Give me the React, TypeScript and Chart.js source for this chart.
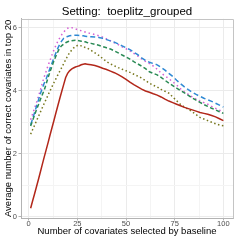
import { useEffect, useRef } from "react";
import { Chart, registerables } from "chart.js";

Chart.register(...registerables);

const titleText = "Setting:  toeplitz_grouped";
const xAxisTitle = "Number of covariates selected by baseline";
const yAxisTitle = "Average number of correct covariates in top 20";

const xMajorTicks = [0, 25, 50, 75, 100];
const xMinorTicks = [12.5, 37.5, 62.5, 87.5];
const yMajorTicks = [0, 2, 4, 6];
const yMinorTicks = [1, 3, 5];

const xValues = [
  1, 2, 3, 4, 5, 6, 7, 8, 9, 10, 11, 12, 13, 14, 15, 16, 17, 18, 19, 20,
  21, 22, 23, 24, 25, 26, 27, 28, 29, 30, 32, 34, 36, 38, 40, 42, 44, 46, 48, 50,
  52, 54, 56, 58, 60, 62, 64, 66, 68, 70, 72, 74, 76, 78, 80, 82, 84, 86, 88, 90,
  92, 94, 96, 98, 100,
];

const redValues = [
  0.27, 0.5, 0.72, 0.95, 1.18, 1.42, 1.66, 1.9, 2.13, 2.36, 2.6, 2.83, 3.06, 3.3, 3.53, 3.76, 3.98, 4.2, 4.42, 4.55,
  4.63, 4.68, 4.72, 4.75, 4.77, 4.79, 4.82, 4.84, 4.85, 4.84, 4.82, 4.8, 4.76, 4.71, 4.67, 4.62, 4.57, 4.51, 4.44, 4.36,
  4.27, 4.19, 4.12, 4.05, 3.99, 3.95, 3.9, 3.86, 3.8, 3.73, 3.67, 3.62, 3.57, 3.52, 3.47, 3.43, 3.39, 3.35, 3.31, 3.28,
  3.25, 3.21, 3.17, 3.11, 3.05,
];

const oliveValues = [
  2.62, 2.76, 2.9, 3.04, 3.18, 3.32, 3.46, 3.6, 3.73, 3.87, 4.0, 4.13, 4.26, 4.38, 4.5, 4.62, 4.74, 4.86, 4.98, 5.1,
  5.2, 5.28, 5.35, 5.4, 5.43, 5.44, 5.42, 5.4, 5.37, 5.35, 5.28, 5.2, 5.12, 5.02, 4.92, 4.85, 4.79, 4.73, 4.68, 4.63,
  4.58, 4.52, 4.46, 4.4, 4.32, 4.24, 4.17, 4.12, 4.04, 3.98, 3.92, 3.8, 3.68, 3.56, 3.48, 3.41, 3.33, 3.24, 3.15, 3.1,
  3.05, 3.0, 2.95, 2.91, 2.89,
];

const greenValues = [
  2.88, 3.05, 3.22, 3.4, 3.55, 3.72, 3.87, 4.02, 4.22, 4.42, 4.61, 4.78, 4.95, 5.1, 5.24, 5.36, 5.43, 5.48, 5.52, 5.55,
  5.57, 5.58, 5.59, 5.6, 5.6, 5.58, 5.57, 5.56, 5.55, 5.53, 5.5, 5.47, 5.44, 5.4, 5.36, 5.32, 5.26, 5.2, 5.13, 5.07,
  5.0, 4.92, 4.85, 4.78, 4.7, 4.6, 4.55, 4.5, 4.42, 4.33, 4.24, 4.16, 4.08, 4.0, 3.93, 3.85, 3.77, 3.7, 3.63, 3.56,
  3.5, 3.44, 3.39, 3.33, 3.28,
];

const blueValues = [
  2.92, 3.1, 3.3, 3.5, 3.7, 3.9, 4.08, 4.24, 4.38, 4.55, 4.72, 4.88, 5.04, 5.2, 5.35, 5.48, 5.58, 5.66, 5.7, 5.72,
  5.74, 5.75, 5.76, 5.76, 5.76, 5.75, 5.75, 5.74, 5.73, 5.72, 5.71, 5.7, 5.69, 5.66, 5.62, 5.58, 5.54, 5.48, 5.42, 5.36,
  5.3, 5.22, 5.14, 5.04, 4.96, 4.9, 4.86, 4.82, 4.74, 4.65, 4.55, 4.45, 4.33, 4.22, 4.12, 4.03, 3.95, 3.88, 3.82, 3.76,
  3.71, 3.66, 3.6, 3.54, 3.48,
];

const magentaValues = [
  3.08, 3.26, 3.44, 3.62, 3.82, 4.02, 4.24, 4.44, 4.62, 4.8, 4.97, 5.14, 5.3, 5.44, 5.57, 5.68, 5.78, 5.86, 5.93, 5.98,
  6.01, 6.0, 5.98, 5.96, 5.94, 5.92, 5.9, 5.88, 5.86, 5.84, 5.81, 5.78, 5.74, 5.7, 5.64, 5.58, 5.52, 5.46, 5.39, 5.33,
  5.26, 5.18, 5.1, 5.01, 4.93, 4.86, 4.78, 4.68, 4.56, 4.47, 4.38, 4.28, 4.18, 4.06, 3.96, 3.88, 3.8, 3.73, 3.67, 3.62,
  3.57, 3.5, 3.44, 3.38, 3.32,
];

const FONT = "'Liberation Sans', Arial, sans-serif";

function toPoints(ys: number[]) {
  return xValues.map((x, i) => ({ x, y: ys[i] }));
}

const panelBorder = {
  id: "panelBorder",
  afterDatasetsDraw(chart: any) {
    const { ctx, chartArea } = chart;
    ctx.save();
    ctx.strokeStyle = "#c4c4c4";
    ctx.lineWidth = 1;
    ctx.beginPath();
    ctx.moveTo(Math.round(chartArea.left) + 0.5, Math.round(chartArea.top) + 0.5);
    ctx.lineTo(Math.round(chartArea.right) + 0.5, Math.round(chartArea.top) + 0.5);
    ctx.lineTo(Math.round(chartArea.right) + 0.5, Math.round(chartArea.bottom) + 0.5);
    ctx.stroke();
    ctx.restore();
  },
};

export default function App() {
  const canvasRef = useRef<HTMLCanvasElement | null>(null);

  useEffect(() => {
    if (!canvasRef.current) return;
    const isXMajor = (v: number) => xMajorTicks.includes(v);
    const isYMajor = (v: number) => yMajorTicks.includes(v);

    const chart = new Chart(canvasRef.current, {
      type: "line",
      data: {
        datasets: [
          {
            label: "red",
            data: toPoints(redValues),
            borderColor: "#B2271A",
            borderWidth: 1.5,
          },
          {
            label: "olive",
            data: toPoints(oliveValues),
            borderColor: "#76761C",
            borderWidth: 1.5,
            borderDash: [1.5, 2.5],
          },
          {
            label: "green",
            data: toPoints(greenValues),
            borderColor: "#2A8A55",
            borderWidth: 1.5,
            borderDash: [4, 2.5],
          },
          {
            label: "blue",
            data: toPoints(blueValues),
            borderColor: "#2F89D4",
            borderWidth: 1.5,
            borderDash: [5, 3],
          },
          {
            label: "magenta",
            data: toPoints(magentaValues),
            borderColor: "#D45FD4",
            borderWidth: 1.5,
            borderDash: [1.5, 3],
          },
        ],
      },
      options: {
        animation: false,
        responsive: false,
        devicePixelRatio: 1,
        layout: { padding: { left: 0, right: 8, top: 0, bottom: 0 } },
        elements: {
          point: { radius: 0 },
          line: { tension: 0, fill: false },
        },
        plugins: {
          legend: { display: false },
          tooltip: { enabled: false },
          title: {
            display: true,
            text: titleText,
            fullSize: false,
            color: "#000000",
            font: { family: FONT, size: 11.5, weight: "normal" },
            padding: { top: 5, bottom: 0 },
          },
        },
        scales: {
          x: {
            type: "linear",
            min: -3.95,
            max: 104.95,
            afterBuildTicks: (scale: any) => {
              scale.ticks = [...xMajorTicks, ...xMinorTicks]
                .sort((a, b) => a - b)
                .map((v) => ({ value: v }));
            },
            afterFit: (scale: any) => {
              scale.height = 23;
            },
            ticks: {
              autoSkip: false,
              maxRotation: 0,
              padding: 0,
              color: "#4d4d4d",
              font: { family: FONT, size: 7.5, lineHeight: 1 },
              callback: (v: any) => (isXMajor(Number(v)) ? String(v) : ""),
            },
            grid: {
              color: (ctx: any) => (ctx.tick && isXMajor(ctx.tick.value) ? "#ebebeb" : "#f4f4f4"),
              tickColor: (ctx: any) => (ctx.tick && isXMajor(ctx.tick.value) ? "#b3b3b3" : "rgba(0,0,0,0)"),
              tickLength: 2.5,
              lineWidth: 1,
            },
            border: { display: true, color: "#b3b3b3", width: 1 },
            title: {
              display: true,
              text: xAxisTitle,
              color: "#000000",
              font: { family: FONT, size: 9.5 },
              padding: { top: 0, bottom: 3.6 },
            },
          },
          y: {
            type: "linear",
            min: -0.04,
            max: 6.28,
            afterBuildTicks: (scale: any) => {
              scale.ticks = [...yMajorTicks, ...yMinorTicks]
                .sort((a, b) => a - b)
                .map((v) => ({ value: v }));
            },
            afterFit: (scale: any) => {
              scale.width = 21;
            },
            ticks: {
              autoSkip: false,
              padding: 1.5,
              color: "#4d4d4d",
              font: { family: FONT, size: 7.5, lineHeight: 1 },
              callback: (v: any) => (isYMajor(Number(v)) ? String(v) : ""),
            },
            grid: {
              color: (ctx: any) => (ctx.tick && isYMajor(ctx.tick.value) ? "#ebebeb" : "#f4f4f4"),
              tickColor: (ctx: any) => (ctx.tick && isYMajor(ctx.tick.value) ? "#b3b3b3" : "rgba(0,0,0,0)"),
              tickLength: 2.5,
              lineWidth: 1,
            },
            border: { display: true, color: "#b3b3b3", width: 1 },
            title: {
              display: true,
              text: yAxisTitle,
              color: "#000000",
              font: { family: FONT, size: 9.5 },
              padding: { top: 3, bottom: 0 },
            },
          },
        },
      },
      plugins: [panelBorder],
    } as any);

    return () => chart.destroy();
  }, []);

  return (
    <div style={{ position: "absolute", left: 0, top: 0, width: 241, height: 241, background: "#ffffff" }}>
      <canvas ref={canvasRef} width={241} height={241} style={{ width: 241, height: 241, display: "block" }} />
    </div>
  );
}
